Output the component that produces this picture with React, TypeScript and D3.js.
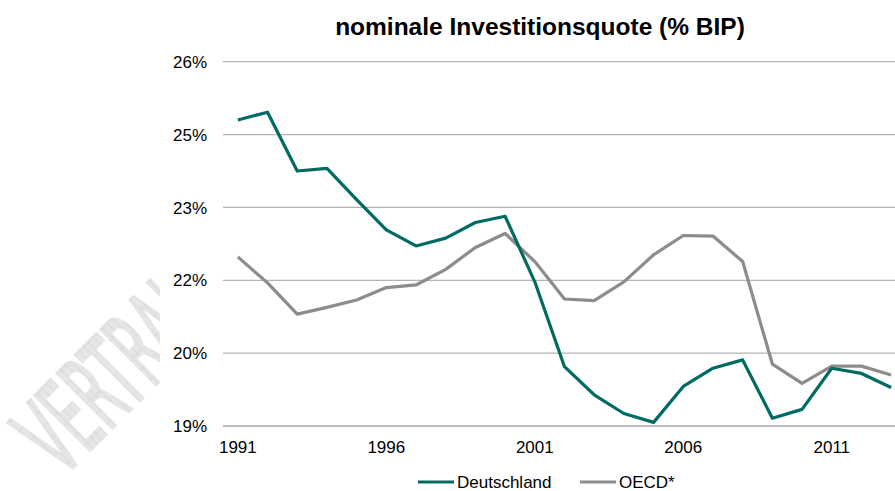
import { useEffect, useRef } from "react";
import * as d3 from "d3";

// Data (% of GDP)
const years: number[] = d3.range(1991, 2014);
const deutschland: number[] = [
  24.88, 25.03, 23.9, 23.95, 23.35, 22.77, 22.46, 22.61, 22.91, 23.03,
  21.77, 20.14, 19.6, 19.24, 19.07, 19.76, 20.11, 20.27, 19.15, 19.32,
  20.11, 20.01, 19.74,
];
const oecd: number[] = [
  22.25, 21.75, 21.15, 21.28, 21.42, 21.66, 21.71, 22.01, 22.43, 22.7,
  22.16, 21.44, 21.41, 21.77, 22.29, 22.66, 22.65, 22.16, 20.19, 19.82,
  20.15, 20.15, 19.98,
];
const yTicks: number[] = [19, 20.4, 21.8, 23.2, 24.6, 26];
const xTickYears: number[] = [1991, 1996, 2001, 2006, 2011];
const seriesNames: string[] = ["Deutschland", "OECD*"];
const seriesColors: string[] = ["#006b63", "#8c8c8c"];

const FONT = "'Liberation Sans', Arial, sans-serif";

export default function App() {
  const ref = useRef<SVGSVGElement | null>(null);
  const width = 895;
  const height = 491;

  useEffect(() => {
    if (!ref.current) return;
    const svg = d3.select(ref.current);
    svg.selectAll("*").remove();

    const x = d3
      .scalePoint<number>()
      .domain(years)
      .range([223, 906])
      .padding(0.5);
    const y = d3.scaleLinear().domain([19, 26]).range([426, 61.7]);

    // watermark (hatched, cut off left of the plot)
    const defs = svg.append("defs");
    defs
      .append("clipPath")
      .attr("id", "wm-clip")
      .append("rect")
      .attr("x", 0)
      .attr("y", 0)
      .attr("width", 160)
      .attr("height", height);
    const pat = defs
      .append("pattern")
      .attr("id", "wm-hatch")
      .attr("patternUnits", "userSpaceOnUse")
      .attr("width", 14)
      .attr("height", 14);
    pat.append("rect").attr("width", 14).attr("height", 14).attr("fill", "#e6e6e6");
    pat.append("path")
      .attr("d", "M0,7H14M7,0V14")
      .attr("stroke", "#d2d2d2")
      .attr("stroke-width", 0.8);

    svg
      .append("g")
      .attr("clip-path", "url(#wm-clip)")
      .append("text")
      .attr("transform", "translate(62,478) rotate(-45) scale(0.47,1)")
      .style("font-family", "'DejaVu Sans', sans-serif")
      .style("font-size", "106px")
      .style("fill", "url(#wm-hatch)")
      .style("stroke", "url(#wm-hatch)")
      .style("stroke-width", 4)
      .text("VERTRAULICH");

    // title
    svg
      .append("text")
      .attr("x", 540)
      .attr("y", 35)
      .attr("text-anchor", "middle")
      .style("font-family", FONT)
      .style("font-size", "24.5px")
      .style("font-weight", "bold")
      .style("fill", "#000")
      .text("nominale Investitionsquote (% BIP)");

    // gridlines + y labels
    const grid = svg.append("g");
    yTicks.forEach((t) => {
      grid
        .append("line")
        .attr("x1", 223)
        .attr("x2", 906)
        .attr("y1", y(t))
        .attr("y2", y(t))
        .attr("stroke", t === 19 ? "#a6a6a6" : "#b3b3b3")
        .attr("stroke-width", t === 19 ? 1.5 : 1.2);
      grid
        .append("text")
        .attr("x", 207)
        .attr("y", y(t))
        .attr("dy", "0.36em")
        .attr("text-anchor", "end")
        .style("font-family", FONT)
        .style("font-size", "17px")
        .style("fill", "#000")
        .text(`${Math.round(t)}%`);
    });

    // x labels
    xTickYears.forEach((yr) => {
      svg
        .append("text")
        .attr("x", x(yr)!)
        .attr("y", 453)
        .attr("text-anchor", "middle")
        .style("font-family", FONT)
        .style("font-size", "17px")
        .style("fill", "#000")
        .text(String(yr));
    });

    // lines
    const line = d3
      .line<number>()
      .x((_, i) => x(years[i])!)
      .y((d) => y(d));

    [oecd, deutschland].forEach((s, k) => {
      svg
        .append("path")
        .datum(s)
        .attr("d", line)
        .attr("fill", "none")
        .attr("stroke", k === 0 ? seriesColors[1] : seriesColors[0])
        .attr("stroke-width", 3.2)
        .attr("stroke-linejoin", "round");
    });

    // legend
    const legendX = [418, 580];
    seriesNames.forEach((name, i) => {
      const g = svg.append("g").attr("transform", `translate(${legendX[i]},482)`);
      g.append("line")
        .attr("x1", 0)
        .attr("x2", 36)
        .attr("stroke", seriesColors[i])
        .attr("stroke-width", 3.2);
      g.append("text")
        .attr("x", 39)
        .attr("y", 6)
        .style("font-family", FONT)
        .style("font-size", "17px")
        .style("fill", "#000")
        .text(name);
    });
  }, []);

  return (
    <svg
      ref={ref}
      width={width}
      height={height}
      style={{ position: "absolute", top: 0, left: 0, background: "#fff" }}
    />
  );
}
